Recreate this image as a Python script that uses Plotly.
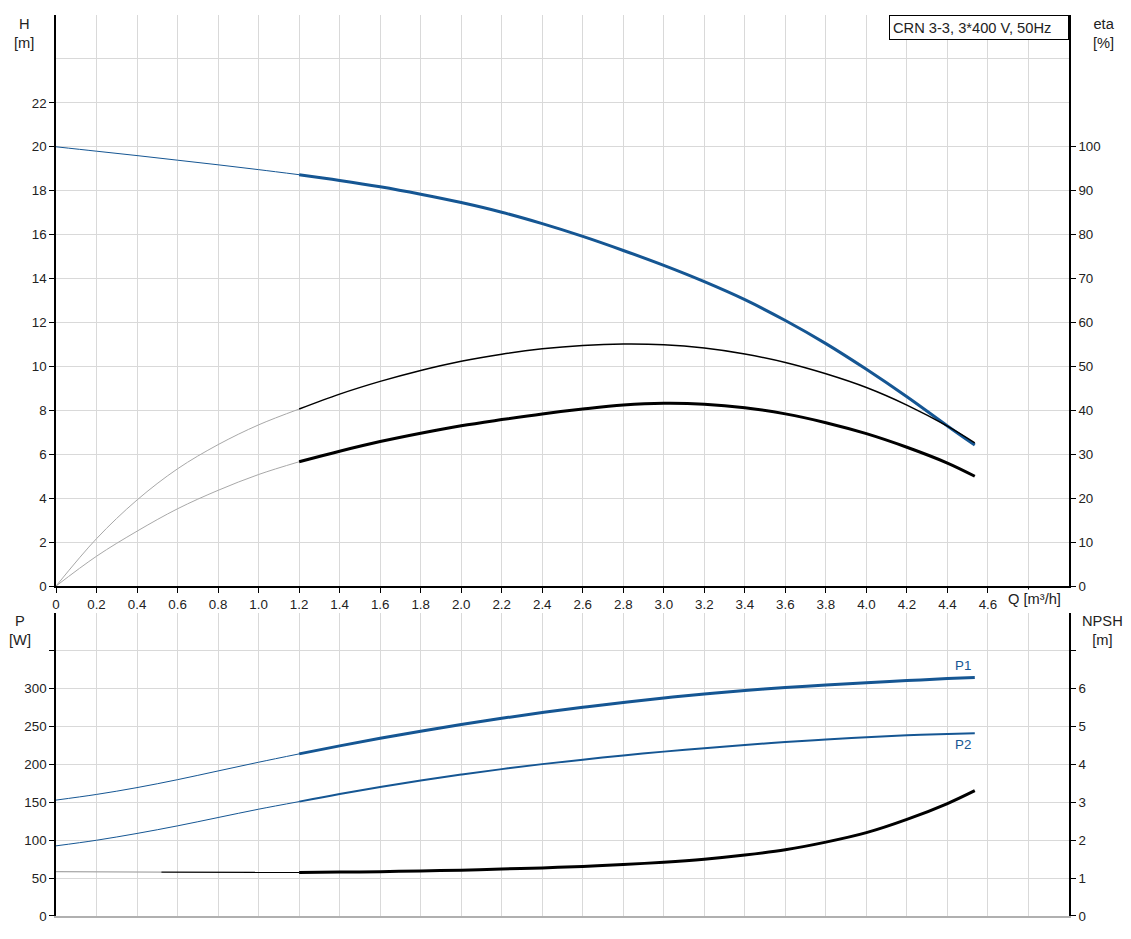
import plotly.graph_objects as go

# ---------------- data ----------------
Q_low = [0, 0.2, 0.4, 0.6, 0.8, 1.0, 1.2]
Q_duty = [1.2, 1.4, 1.6, 1.8, 2.0, 2.2, 2.4, 2.6, 2.8, 3.0, 3.2, 3.4, 3.6, 3.8, 4.0, 4.2, 4.4, 4.535]

H_low = [20.0, 19.8, 19.6, 19.39, 19.18, 18.96, 18.73]
H_duty = [18.73, 18.47, 18.18, 17.84, 17.46, 17.02, 16.50, 15.92, 15.28, 14.60, 13.86, 13.04, 12.09, 11.04,
          9.87, 8.62, 7.29, 6.42]

eta_p_low = [0, 10.8, 19.6, 26.7, 32.2, 36.7, 40.3]
eta_p_duty = [40.3, 43.7, 46.6, 49.1, 51.2, 52.8, 54.0, 54.76, 55.09, 54.93, 54.18, 52.83, 50.9, 48.33,
              45.2, 41.2, 36.4, 32.6]

eta_t_low = [0, 6.8, 12.5, 17.6, 21.8, 25.4, 28.3]
eta_t_duty = [28.3, 30.7, 32.9, 34.8, 36.5, 37.9, 39.2, 40.3, 41.2, 41.6, 41.4, 40.6, 39.2, 37.2,
              34.7, 31.6, 28.0, 25.0]

P1_low = [153, 160.5, 169.5, 180, 191.5, 203, 214]
P1_duty = [214, 224.6, 234.6, 244.0, 252.8, 261.0, 268.6, 275.6, 282.0, 287.8, 293.0, 297.6, 301.6, 305.0,
           307.8, 310.8, 313.4, 315.0]

P2_low = [92.6, 100, 109, 119, 130, 141, 151]
P2_duty = [151, 161.1, 170.4, 178.9, 186.7, 193.9, 200.5, 206.4, 211.9, 217.0, 221.6, 225.8, 229.6, 233.0,
           236.0, 238.6, 240.4, 241.3]

Q_npsh_grey = [0, 0.52]
NPSH_grey = [1.17, 1.16]
Q_npsh_thin = [0.52, 1.2]
NPSH_thin = [1.16, 1.15]
NPSH_duty = [1.15, 1.16, 1.17, 1.19, 1.21, 1.24, 1.27, 1.31, 1.36, 1.42, 1.50, 1.61, 1.75, 1.95,
             2.20, 2.55, 2.97, 3.31]

q_ticks = [round(0.2 * i, 1) for i in range(25)]
q_labels = ["0"] + [f"{v:.1f}" for v in q_ticks[1:24]] + [""]
h_ticks = list(range(0, 23, 2))
eta_ticks = list(range(0, 101, 10))
p_ticks = list(range(0, 351, 50))
p_labels = [str(v) for v in p_ticks[:-1]] + [""]
npsh_ticks = list(range(0, 8))
npsh_labels = [str(v) for v in npsh_ticks[:-1]] + [""]

title_text = "CRN 3-3, 3*400 V, 50Hz"

# ---------------- layout geometry (screen px; page body has 8px margin) ----------------
OFF = 8
W, Hh = 1131 - OFF, 939 - 2 * OFF
L, R, T, B = 56, 1069, 15, 919


def px_x(p):
    return (p - L) / (R - L)


def px_y(p):
    return (B - p) / (B - T)


BLUE = "#155693"
GREY = "#a8a8a8"
GRID = "#d9d9d9"
FONT = "Liberation Sans, Arial, sans-serif"
TXT = "#222222"
FS_TICK = 13.33
FS_TITLE = 14.67

fig = go.Figure()


def line(x, y, xa, ya, color, width, shape="spline"):
    fig.add_trace(go.Scatter(x=x, y=y, mode="lines", line=dict(color=color, width=width, shape=shape),
                             xaxis=xa, yaxis=ya, showlegend=False, hoverinfo="skip"))


# top panel
line(Q_low, H_low, "x", "y", BLUE, 1)
line(Q_duty, H_duty, "x", "y", BLUE, 3)
line(Q_low, eta_p_low, "x", "y2", GREY, 1)
line(Q_duty, eta_p_duty, "x", "y2", "black", 1.5)
line(Q_low, eta_t_low, "x", "y2", GREY, 1)
line(Q_duty, eta_t_duty, "x", "y2", "black", 3)

# bottom panel
line(Q_low, P1_low, "x2", "y3", BLUE, 1)
line(Q_duty, P1_duty, "x2", "y3", BLUE, 3)
line(Q_low, P2_low, "x2", "y3", BLUE, 1)
line(Q_duty, P2_duty, "x2", "y3", BLUE, 2)
line(Q_npsh_grey, NPSH_grey, "x2", "y4", GREY, 1.2, "linear")
line(Q_npsh_thin, NPSH_thin, "x2", "y4", "black", 1.2, "linear")
line(Q_duty, NPSH_duty, "x2", "y4", "black", 3)

top_dom = [px_y(588), 1.0]
bot_dom = [0.0, px_y(615)]

tickfont = dict(family=FONT, size=FS_TICK, color=TXT)

fig.update_layout(
    width=W, height=Hh,
    margin=dict(l=L - OFF, r=(W + OFF) - R, t=T - OFF, b=(Hh + OFF) - B),
    paper_bgcolor="white", plot_bgcolor="white",
    font=dict(family=FONT, size=FS_TICK, color=TXT),
    xaxis=dict(domain=[0, 1], range=[0, 5.0], anchor="y", tickmode="array", tickvals=q_ticks, ticktext=q_labels,
               showgrid=True, gridcolor=GRID, gridwidth=1, zeroline=False, showline=True, linecolor="black",
               linewidth=1.5, ticks="outside", ticklen=5, tickcolor="black", tickfont=tickfont),
    yaxis=dict(domain=top_dom, range=[0, 26], anchor="x", tickmode="array", tickvals=h_ticks,
               showgrid=True, gridcolor=GRID, gridwidth=1, zeroline=False, showline=True, linecolor="black",
               linewidth=1.5, ticks="outside", ticklen=5, tickcolor="black", tickfont=tickfont,
               minor=dict(tickmode="array", tickvals=[24, 26], showgrid=True, gridcolor=GRID, ticks="")),
    yaxis2=dict(range=[0, 130], overlaying="y", side="right", anchor="x", tickmode="array", tickvals=eta_ticks,
                showgrid=False, zeroline=False, showline=True, linecolor="black", linewidth=1.5,
                ticks="outside", ticklen=5, tickcolor="black", tickfont=tickfont),
    xaxis2=dict(domain=[0, 1], range=[0, 5.0], anchor="y3", tickmode="array", tickvals=q_ticks,
                showticklabels=False, showgrid=True, gridcolor=GRID, gridwidth=1, zeroline=False,
                showline=True, linecolor="#b0b0b0", linewidth=1.5, ticks=""),
    yaxis3=dict(domain=bot_dom, range=[0, 400], anchor="x2", tickmode="array", tickvals=p_ticks, ticktext=p_labels,
                showgrid=True, gridcolor=GRID, gridwidth=1, zeroline=False, showline=True, linecolor="black",
                linewidth=1.5, ticks="outside", ticklen=5, tickcolor="black", tickfont=tickfont,
                minor=dict(tickmode="array", tickvals=[400], showgrid=True, gridcolor=GRID, ticks="")),
    yaxis4=dict(range=[0, 8], overlaying="y3", side="right", anchor="x2", tickmode="array", tickvals=npsh_ticks,
                ticktext=npsh_labels, showgrid=False, zeroline=False, showline=True, linecolor="black",
                linewidth=1.5, ticks="outside", ticklen=5, tickcolor="black", tickfont=tickfont),
)

tfont = dict(family=FONT, size=FS_TITLE, color=TXT)
ann = []
ann.append(dict(text="H<br>[m]", x=px_x(24), y=px_y(14), xref="paper", yref="paper", xanchor="center",
                yanchor="top", showarrow=False, font=tfont))
ann.append(dict(text="eta<br>[%]", x=px_x(1104), y=px_y(14), xref="paper", yref="paper", xanchor="center",
                yanchor="top", showarrow=False, font=tfont))
ann.append(dict(text="P<br>[W]", x=px_x(19.5), y=px_y(613), xref="paper", yref="paper", xanchor="center",
                yanchor="top", showarrow=False, font=tfont))
ann.append(dict(text="NPSH<br>[m]", x=px_x(1102), y=px_y(613), xref="paper", yref="paper", xanchor="center",
                yanchor="top", showarrow=False, font=tfont))
ann.append(dict(text="Q [m³/h]", x=px_x(1006), y=px_y(601), xref="paper", yref="paper", xanchor="left",
                yanchor="middle", showarrow=False, bgcolor="white", font=tfont))
ann.append(dict(text=title_text, x=px_x(1069), y=px_y(15), xref="paper", yref="paper", xanchor="right",
                yanchor="top", showarrow=False, bgcolor="white", bordercolor="black", borderwidth=1,
                borderpad=3, width=172, height=17, align="left", font=tfont))
ann.append(dict(text="P1", x=Q_duty[-1] - 0.06, y=P1_duty[-1], xref="x2", yref="y3", xanchor="center",
                yanchor="bottom", yshift=2, showarrow=False, font=dict(family=FONT, size=FS_TICK, color=BLUE)))
ann.append(dict(text="P2", x=Q_duty[-1] - 0.06, y=P2_duty[-1], xref="x2", yref="y3", xanchor="center",
                yanchor="top", yshift=-2, showarrow=False, font=dict(family=FONT, size=FS_TICK, color=BLUE)))
fig.update_layout(annotations=ann)

fig.write_html("out.html")
